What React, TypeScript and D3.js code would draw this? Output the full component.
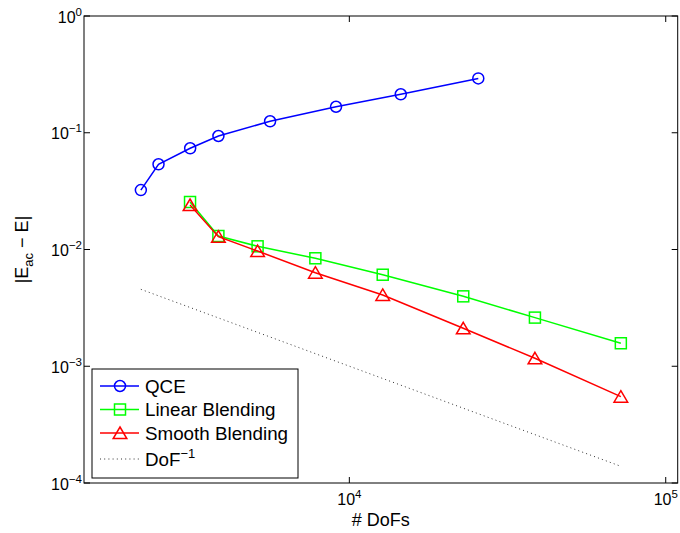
import * as d3 from 'd3'

const W = 680
const H = 533
const PLOT = { left: 84, right: 677.7, top: 16, bottom: 483 }
const FONT = '"Liberation Sans", Arial, Helvetica, sans-serif'

// values (log-log)
const qceDofs = [2193, 2494, 3140, 3857, 5617, 9078, 14540, 25560]
const qceErr = [0.0323, 0.0537, 0.0736, 0.0938, 0.1254, 0.167, 0.2135, 0.292]
const blendDofs = [3137, 3856, 5129, 7809, 12750, 22910, 38600, 72130]
const linearErr = [0.02552, 0.01305, 0.01065, 0.00841, 0.00608, 0.00397, 0.00261, 0.001574]
const smoothErr = [0.02405, 0.01288, 0.0097, 0.00633, 0.00408, 0.002114, 0.00117, 0.000549]
const refDofs = [2193, 72130]
const refErr = [0.00456, 0.000139]

const xTicks = [1e4, 1e5]
const xTickExp = ['4', '5']
const yTicks = [1, 1e-1, 1e-2, 1e-3, 1e-4]
const yTickExp = ['0', '\u22121', '\u22122', '\u22123', '\u22124']

const legendLabels = ['QCE', 'Linear Blending', 'Smooth Blending', 'DoF']

const x = d3.scaleLog().domain([1450, 109100]).range([PLOT.left, PLOT.right])
const y = d3.scaleLog().domain([1e-4, 1]).range([PLOT.bottom, PLOT.top])

const line = d3
  .line<[number, number]>()
  .x((d) => x(d[0]))
  .y((d) => y(d[1]))

const zip = (xs: number[], ys: number[]) => xs.map((v, i) => [v, ys[i]] as [number, number])

const Marker = ({ kind, cx, cy, color }: { kind: string; cx: number; cy: number; color: string }) => {
  if (kind === 'circle') {
    return <circle cx={cx} cy={cy} r={5.5} fill="none" stroke={color} strokeWidth={1.5} />
  }
  if (kind === 'square') {
    return <rect x={cx - 5.5} y={cy - 5.5} width={11} height={11} fill="none" stroke={color} strokeWidth={1.5} />
  }
  return (
    <path
      d={`M${cx},${cy - 6} L${cx + 6.8},${cy + 5.5} L${cx - 6.8},${cy + 5.5} Z`}
      fill="none"
      stroke={color}
      strokeWidth={1.5}
    />
  )
}

const series = [
  { xs: qceDofs, ys: qceErr, color: '#0000ff', kind: 'circle' },
  { xs: blendDofs, ys: linearErr, color: '#00ff00', kind: 'square' },
  { xs: blendDofs, ys: smoothErr, color: '#ff0000', kind: 'triangle' },
]

export default function App() {
  const legendRows = [386, 409.5, 433, 459]

  return (
    <svg
      width={W}
      height={H}
      style={{ position: 'absolute', left: 0, top: 0, background: '#fff' }}
      fontFamily={FONT}
    >
      <rect x={0} y={0} width={W} height={H} fill="#fff" />

      {/* reference slope */}
      <path
        d={line(zip(refDofs, refErr)) || ''}
        fill="none"
        stroke="#333"
        strokeWidth={1}
        strokeDasharray="1,3.2"
      />

      {series.map((s, i) => {
        const pts = zip(s.xs, s.ys)
        return (
          <g key={i}>
            <path d={line(pts) || ''} fill="none" stroke={s.color} strokeWidth={1.5} />
            {pts.map((p, j) => (
              <Marker key={j} kind={s.kind} cx={x(p[0])} cy={y(p[1])} color={s.color} />
            ))}
          </g>
        )
      })}

      {/* axes box */}
      <rect
        x={PLOT.left}
        y={PLOT.top}
        width={PLOT.right - PLOT.left}
        height={PLOT.bottom - PLOT.top}
        fill="none"
        stroke="#000"
        strokeWidth={1}
      />

      {xTicks.map((t, i) => (
        <g key={i}>
          <line x1={x(t)} x2={x(t)} y1={PLOT.bottom} y2={PLOT.bottom - 6} stroke="#000" />
          <line x1={x(t)} x2={x(t)} y1={PLOT.top} y2={PLOT.top + 6} stroke="#000" />
          <text x={x(t)} y={505} textAnchor="middle" fontSize={16} fill="#000">
            10<tspan dy={-7} fontSize={11.5}>{xTickExp[i]}</tspan>
          </text>
        </g>
      ))}

      {yTicks.map((t, i) => (
        <g key={i}>
          <line x1={PLOT.left} x2={PLOT.left + 6} y1={y(t)} y2={y(t)} stroke="#000" />
          <line x1={PLOT.right} x2={PLOT.right - 6} y1={y(t)} y2={y(t)} stroke="#000" />
          <text x={82} y={y(t) + 6.5} textAnchor="end" fontSize={16} fill="#000">
            10<tspan dy={-7} fontSize={11.5}>{yTickExp[i]}</tspan>
          </text>
        </g>
      ))}

      <text x={(PLOT.left + PLOT.right) / 2} y={526} textAnchor="middle" fontSize={18} fill="#000">
        # DoFs
      </text>

      <text
        transform={`translate(28,${(PLOT.top + PLOT.bottom) / 2}) rotate(-90)`}
        textAnchor="middle"
        fontSize={18}
        fill="#000"
      >
        |E<tspan dy={5} fontSize={13}>ac</tspan>
        <tspan dy={-5}>{' \u2212 E|'}</tspan>
      </text>

      {/* legend */}
      <rect x={92} y={369} width={206} height={109} fill="#fff" stroke="#000" strokeWidth={1} />
      {legendLabels.map((label, i) => {
        const cy = legendRows[i]
        const s = series[i]
        return (
          <g key={i}>
            {s ? (
              <>
                <line x1={100} x2={139} y1={cy} y2={cy} stroke={s.color} strokeWidth={1.5} />
                <Marker kind={s.kind} cx={120} cy={cy} color={s.color} />
              </>
            ) : (
              <line x1={100} x2={139} y1={cy} y2={cy} stroke="#333" strokeWidth={1} strokeDasharray="1,3.2" />
            )}
            <text x={145} y={cy + 6.5} fontSize={18.8} fill="#000">
              {label}
              {s ? null : <tspan dy={-8} fontSize={13}>{'\u22121'}</tspan>}
            </text>
          </g>
        )
      })}
    </svg>
  )
}
